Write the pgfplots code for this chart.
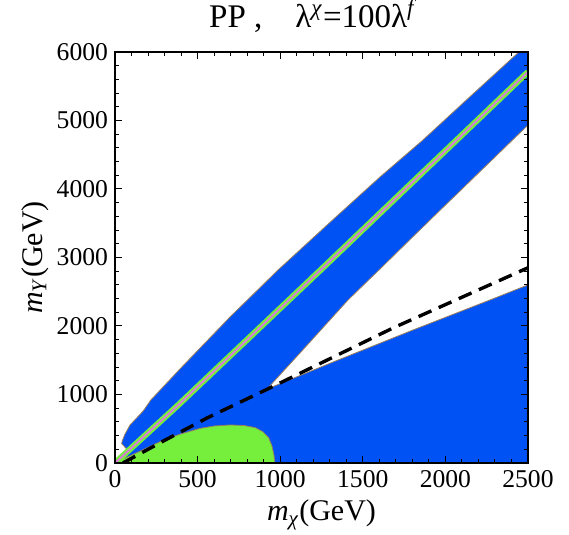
\documentclass[border=0pt]{standalone}
\usepackage{fontspec}
\setmainfont{Liberation Serif}
\usepackage{pgfplots}
\pgfplotsset{compat=1.18}
\definecolor{myblue}{RGB}{0,82,245}
\definecolor{mygreen}{RGB}{118,238,60}
\definecolor{mypink}{RGB}{222,120,222}
\definecolor{edgec}{RGB}{150,125,95}
\begin{document}
\begin{tikzpicture}
\useasboundingbox (-57.5pt,-36pt) rectangle (227pt,231.5pt);
\begin{axis}[
 at={(0,0)}, anchor=south west,
 width=206.5pt, height=205.5pt, scale only axis,
 xmin=0, xmax=2500, ymin=0, ymax=6000,
 xtick={0,500,...,2500}, ytick={0,1000,...,6000},
 minor x tick num=4, minor y tick num=4,
 tick align=inside, major tick length=3.5pt, minor tick length=2pt,
 tick style={black, line width=0.5pt},
 axis line style={line width=0.6pt},
 scaled ticks=false,
 /pgf/number format/assume math mode=true,
 /pgf/number format/1000 sep={},
 ticklabel style={font=\fontsize{12.8}{14}\selectfont},
 axis on top,
 xlabel={\textit{m}\textsubscript{\textit{χ}}(GeV)},
 ylabel={\textit{m}\textsubscript{\textit{Y}}(GeV)},
 xlabel style={at={(axis description cs:0.5,-0.1265)}, anchor=center, font=\fontsize{15}{17}\selectfont},
 ylabel style={at={(axis description cs:-0.194,0.5)}, anchor=center, font=\fontsize{15}{17}\selectfont},
 title={PP ,\quad λ\textsuperscript{\textit{χ}}=100λ\textsuperscript{\textit{f}}},
 title style={at={(axis description cs:0.48,1)}, anchor=south, yshift=0pt, font=\fontsize{16.5}{18}\selectfont},
]
% background blue
\addplot[fill=myblue, draw=none] coordinates {(0,0) (2500,0) (2500,6000) (0,6000)} -- cycle;
% white upper-left region
\addplot[fill=white, draw=edgec, line width=0.4pt] coordinates {
 (0,0) (80,178) (40,285) (45,330) (60,420) (91,555) (171,760) (217,920)
 (400,1390) (696,2131) (987,2818) (1300,3510) (1604,4175) (1864,4715)
 (2150,5350) (2445,6000) (0,6000)} -- cycle;
% white wedge
\addplot[fill=white, draw=edgec, line width=0.4pt] coordinates {
 (920,1080) (1120,1606) (1411,2380) (1604,2832) (1907,3547) (2500,4934)
 (2500,2600) (2270,2380) (1804,1942) (1320,1474) (920,1080)} -- cycle;
% green blob
\addplot[fill=mygreen, draw=edgec, line width=0.4pt] coordinates {
 (0,0) (60,70) (150,170) (250,285) (315,355) (400,425) (515,505) (600,540)
 (696,555) (780,548) (850,515) (896,455) (930,370) (950,250) (962,120) (968,0)} -- cycle;
% green line with pink centre
\addplot[draw=mygreen, line width=3pt] coordinates {(0,0) (383,847) (1250,2830) (2500,5710)};
\addplot[draw=mypink, line width=0.9pt] coordinates {(0,0) (383,847) (1250,2830) (2500,5710)};
% dashed line
\addplot[draw=black, line width=1.7pt, dash pattern=on 7pt off 4pt] coordinates {
 (48,0) (300,330) (557,657) (920,1075) (1683,1971) (2500,2850)};
\end{axis}
\end{tikzpicture}
\end{document}
